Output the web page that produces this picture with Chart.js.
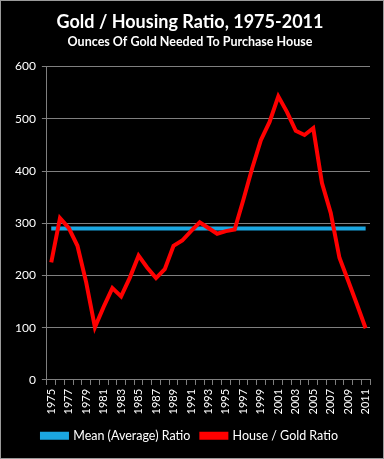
<!DOCTYPE html>
<html>
<head>
<meta charset="utf-8">
<script src="https://cdn.jsdelivr.net/npm/chart.js@4.4.0/dist/chart.umd.min.js"></script>
<style>
  html, body { margin: 0; padding: 0; background: #000; }
  #wrap { width: 384px; height: 459px; box-sizing: border-box; border: 1px solid #9a9a9a; background: #000; }
  canvas { display: block; }
</style>
</head>
<body>
<div id="wrap"><canvas id="c" width="382" height="457"></canvas></div>
<script>
const years = ["1975","1976","1977","1978","1979","1980","1981","1982","1983","1984","1985","1986","1987","1988","1989","1990","1991","1992","1993","1994","1995","1996","1997","1998","1999","2000","2001","2002","2003","2004","2005","2006","2007","2008","2009","2010","2011"];
const houseGoldRatio = [225,310,291,257,187,101,140,176,160,196,238,215,195,212,257,267,285,302,291,280,285,288,345,405,459,494,543,513,477,469,482,377,320,234,190,145,99];
const meanRatio = [290,290,290,290,290,290,290,290,290,290,290,290,290,290,290,290,290,290,290,290,290,290,290,290,290,290,290,290,290,290,290,290,290,290,290,290,290];
const yTicks = [0,100,200,300,400,500,600];

const FONT = "Lato, 'Open Sans', sans-serif";
const grey = '#7f7f7f';

new Chart(document.getElementById('c'), {
  type: 'line',
  data: {
    labels: years,
    datasets: [
      { label: 'House / Gold Ratio', data: houseGoldRatio, borderColor: '#ff0000', backgroundColor: '#ff0000', borderWidth: 4, pointRadius: 0, tension: 0 },
      { label: 'Mean (Average) Ratio', data: meanRatio, borderColor: '#1ba6e0', backgroundColor: '#1ba6e0', borderWidth: 4, pointRadius: 0, tension: 0 }
    ]
  },
  options: {
    responsive: false,
    animation: false,
    events: [],
    layout: { padding: { left: 8, right: 12, top: 6, bottom: 6 } },
    plugins: {
      title: { display: true, text: 'Gold / Housing Ratio, 1975-2011', color: '#ffffff', font: { family: FONT, size: 18, weight: 'bold' }, padding: { top: 4, bottom: 2 } },
      subtitle: { display: true, text: 'Ounces Of Gold Needed To Purchase House', color: '#ffffff', font: { family: FONT, size: 12.5, weight: 'bold' }, padding: { top: 0, bottom: 17 } },
      legend: {
        position: 'bottom',
        labels: {
          color: '#ffffff', font: { family: FONT, size: 12.5 },
          boxWidth: 25, boxHeight: 4, padding: 11,
          sort: (a, b) => b.datasetIndex - a.datasetIndex
        }
      },
      tooltip: { enabled: false }
    },
    scales: {
      x: {
        offset: true,
        grid: { display: true, drawOnChartArea: false, drawTicks: true, tickLength: 5, color: grey, offset: true },
        border: { color: grey },
        ticks: {
          color: '#ffffff', font: { family: FONT, size: 11 },
          autoSkip: false, minRotation: 90, maxRotation: 90, padding: 4,
          callback: function(v, i) { return i % 2 === 0 ? years[i] : ''; }
        }
      },
      y: {
        min: 0, max: 600,
        afterBuildTicks: (axis) => { axis.ticks = yTicks.map(v => ({ value: v })); },
        grid: { color: grey, tickLength: 5 },
        border: { color: grey },
        ticks: { color: '#ffffff', font: { family: FONT, size: 12 }, padding: 6 }
      }
    }
  }
});
</script>
</body>
</html>
